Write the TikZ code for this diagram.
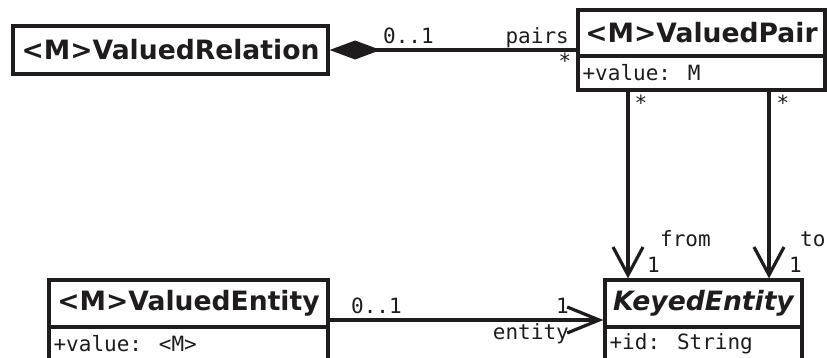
\documentclass[tikz,border=0pt]{standalone}
\usepackage{fontspec}
\usetikzlibrary{arrows.meta,calc}
\newfontfamily\umlsans{DejaVu Sans}
\newfontfamily\umlmono{DejaVu Sans Mono}
\definecolor{fg}{RGB}{30,28,29}
\tikzset{
  umlbox/.style={draw=fg, line width=3.2pt, inner sep=0pt, rectangle},
  titlebox/.style={umlbox, font=\umlsans\bfseries\fontsize{26.6}{30}\selectfont, text=fg},
  attrbox/.style={umlbox},
  attrtext/.style={font=\umlmono\fontsize{21}{24}\selectfont, text=fg, inner sep=0pt, anchor=west},
  lbl/.style={font=\umlmono\fontsize{21}{24}\selectfont, text=fg, inner sep=0pt},
  assoc/.style={draw=fg, line width=3.2pt},
  openarrow/.style={-{Straight Barb[length=28pt,width=30pt]}},
  comp/.style={{Diamond[length=51pt,width=19pt]}-}
}
\begin{document}
\begin{tikzpicture}[x=1pt,y=-1pt]
\useasboundingbox (0,0) rectangle (827,358);
\clip (0,0) rectangle (827,358);
% ValuedRelation
\node[titlebox, minimum width=315pt, minimum height=48pt] (rel) at (170.5,50) {<M>ValuedRelation};
% ValuedPair
\node[titlebox, minimum width=247pt, minimum height=46pt] (pt) at (701.5,33) {<M>ValuedPair};
\node[attrbox, minimum width=247pt, minimum height=34pt] (pa) at (701.5,73) {};
\node[attrtext] (pav) at ($(pa.west)+(6,0)$) {+value: M};
% KeyedEntity
\node[titlebox, font=\umlsans\bfseries\itshape\fontsize{26.6}{30}\selectfont, minimum width=197pt, minimum height=47pt] (kt) at (703.5,303.5) {KeyedEntity};
\node[attrbox, minimum width=197pt, minimum height=34pt] (ka) at (703.5,344) {};
\node[attrtext] (kav) at ($(ka.west)+(6,0)$) {+id: String};
% ValuedEntity
\node[titlebox, minimum width=279pt, minimum height=47pt] (vt) at (188.5,303.5) {<M>ValuedEntity};
\node[attrbox, minimum width=279pt, minimum height=34pt] (va) at (188.5,344) {};
\node[attrtext] (vav) at ($(va.west)+(6,0)$) {+value: <M>};
% composition
\draw[assoc, comp] (rel.east) -- (rel.east -| pt.west);
\node[lbl, anchor=base west] (l1) at (383,44) {0..1};
\node[lbl, anchor=base east] (l2) at (569,44) {pairs};
\node[lbl] (l3) at (565,61) {*};
% from / to
\coordinate (xa) at (628,0);
\coordinate (xb) at (769,0);
\draw[assoc, openarrow] (pa.south -| xa) -- (kt.north -| xa);
\draw[assoc, openarrow] (pa.south -| xb) -- (kt.north -| xb);
\node[lbl] (s1) at (641,103) {*};
\node[lbl] (s2) at (783,103) {*};
\node[lbl, anchor=base west] (f1) at (660,246) {from};
\node[lbl, anchor=base west] (f2) at (800,246) {to};
\node[lbl, anchor=base west] (o1) at (647,272) {1};
\node[lbl, anchor=base west] (o2) at (789,272) {1};
% entity
\coordinate (ye) at (0,320);
\draw[assoc, -{Straight Barb[length=32pt,width=26pt]}] (vt.east |- ye) -- (kt.west |- ye);
\node[lbl, anchor=base west] (e1) at (351,313) {0..1};
\node[lbl, anchor=base east] (e2) at (569,313) {1};
\node[lbl, anchor=base east] (e3) at (569,339) {entity};
\end{tikzpicture}
\end{document}
